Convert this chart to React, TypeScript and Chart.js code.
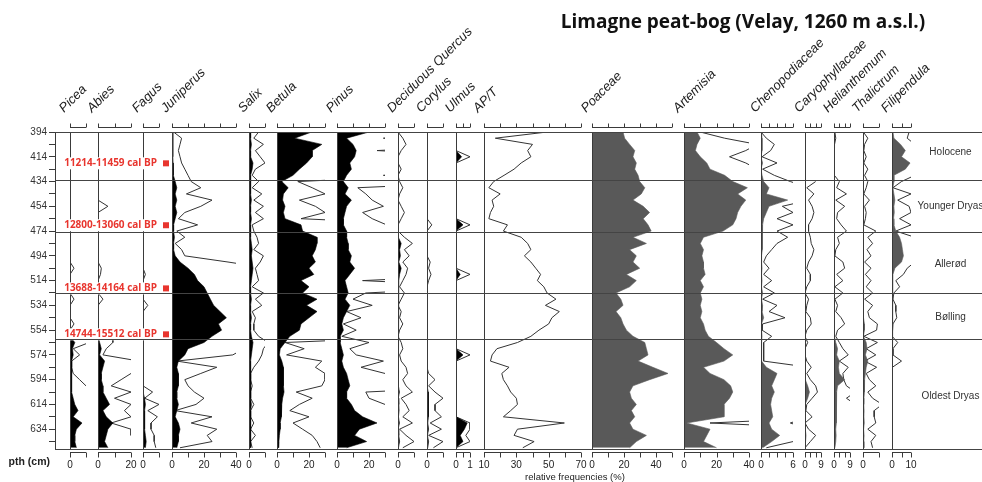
import { useEffect, useRef } from "react";
import { Chart, registerables } from "chart.js";

Chart.register(...registerables);

// ---------- DATA ----------
const DEPTHS = [
  394, 399, 404, 409, 414, 419, 424, 429, 434, 439,
  444, 449, 454, 459, 464, 469, 474, 479, 484, 489,
  494, 499, 504, 509, 514, 519, 524, 529, 534, 539,
  544, 549, 554, 559, 564, 569, 574, 579, 584, 589,
  594, 599, 604, 609, 614, 619, 624, 629, 634, 639,
  644, 649,
];
const DEPTH_TICKS = [394, 404, 414, 424, 434, 444, 454, 464, 474, 484, 494, 504, 514, 524, 534, 544, 554, 564, 574, 584, 594, 604, 614, 624, 634, 644];

const TAXA = [
  "Picea", "Abies", "Fagus", "Juniperus", "Salix", "Betula", "Pinus", "Deciduous Quercus", "Corylus", "Ulmus",
  "AP/T", "Poaceae", "Artemisia", "Chenopodiaceae", "Caryophyllaceae", "Helianthemum", "Thalictrum", "Filipendula",
];

const PICEA = [0,0,0,0,0,0,0,0,0,0, 0,0,0,0,0,0,0,0,0,0, 0,0,0,0,0,0,0,0,0,0, 0,0,0,0.5,3,1.5,2,1,1,1, 1,1,1,2,3,5,2,7.5,4,3, 3,4];
const PICEA_EXAG = [0,0,0,0,0,0,0,0,0,0, 0,0,0,0,0,0,0,0,0,0, 0,0,2.5,0,0,0,0,2.5,0,0, 0,2.5,0,10,12,2,6,1,1,2, 6,10,15,20,30,50,20,75,40,30, 30,40];
const ABIES = [0,0,0,0,0,0,0,0,0,0, 0,0,0,0,0,0,0,0,0,0, 0,0,0,0,0,0,0,0,0,0, 0,0,0,0.5,1,2,1,4,3,2, 2,3,3,5,7,3,5,9,6,5, 4,6];
const ABIES_EXAG = [0,0,0,0,0,0,0,0,0,0, 0,0,6,0,0,0,0,0,0,0, 0,0,2,1.5,0,0,0,3,0,0, 0,0,0,9,9,5,3,25,25,20, 14,8,20,10,20,16,20,8,20,20, 30,30];
const FAGUS = [0,0,0,0,0,0,0,0,0,0, 0,0,0,0,0,0,0,0,0,0, 0,0,0,0,0,0,0,0,0,0, 0,0,0,0,0,0,0,0,0,0, 0,0,0.5,1,1.5,1,1,1,1,1.5, 2,1.5];
const FAGUS_EXAG = [0,0,0,0,0,0,0,0,0,0, 0,0,0,0,0,0,0,0,0,0, 0,0,0,1.5,0,0,0,0,3,0, 0,0,0,0,0,0,0,0,0,0, 0,0,6,1,10,3,9,5,5,7, 7,8];
const JUNIPERUS = [0.5,0.5,0.5,0.5,0.5,0.7,0.7,1,2,3, 2,3,2,3,2,1,1,1.5,1,1, 2,5,10,14,16,20,22,24,26,30, 34,29,31,25,20,10,8,4,3,4, 4,4,3,3,4,3,2,4,5,4, 4,3];
const JUNIPERUS_EXAG = [1,6,5,4,5,6,8,10,12,18, 9,25,18,8,4,16,3,8,2,6, 8,35,60,60,60,60,60,60,60,60, 60,60,60,60,60,45,38,3,28,18, 8,10,14,20,15,2,25,12,28,22, 25,5];
const SALIX = [1,1,1.5,1,1,2.5,2,1,1,1, 1,1.5,1,1,1.5,1,1,1,1.5,2, 1.5,2,2.5,2,1.5,1,1,1.5,1,1, 1.5,1,1,1.5,2.5,2,1.5,1,1,1, 1,1,1,1,1.5,1,1,1,1,1, 1,1];
const SALIX_EXAG = [6,3,9,4,7,10,4,2,6,2, 8,3,9,4,9,2,3,5,6,3, 9,7,4,5,6,2,9,4,8,2, 4,3,3,6,12,9,8,6,3,1, 1,2,1,1,3,1,1,3,1,4, 1,2];
const BETULA = [21.7,11,28,22,22,18.5,14,10,3,7, 4,3.5,5,4,5,15,16,25,25,24, 22,24,20,23,15,20,16,25,18.5,25, 20,15,14,8,5,2,1.5,3,4,4, 4,4,4.4,3.5,3,3,2.5,2,2,1.5, 1.2,1];
const BETULA_EXAG = [99,99,99,99,99,99,99,99,13,22, 30,14,24,30,15,99,99,99,99,99, 99,99,99,99,99,99,99,99,99,99, 99,99,99,99,5,17,6,28,24,30, 30,28,12,22,14,8,20,10,16,22, 25,27];
const PINUS = [20,6,10,12,11,8,9,6,4,7, 5,9,6,5,4,4,6,6,7,7, 9,8,11,8,5,6,7,5,8,6, 4,3,4,2,2,3,4,3,4,6, 7,8,6,6,9,11,16,25,14,11, 18.5,6];
const PINUS_EXAG = [99,29,99,25,99,99,99,29,99,13, 18,22,29,16,22,31,99,99,99,99, 99,99,99,99,16,99,18,10,22,6, 15,4,12,3,20,8,12,29,15,30, 99,99,18,20,30,99,99,99,99,99, 99,99];
const QUERCUS = [0.2,0.3,0.5,0.2,0,0,0.2,0,0.1,0.3, 0.1,0,0.2,0.4,0.2,0,0,0.5,2,1, 1.5,0.5,2,1,0.5,0.2,0.4,0.2,0,0.2, 0.1,0.3,0.1,0,0.2,0.3,0.1,0.2,0.5,0.6, 0.3,0.5,0.9,0.2,0.5,0.7,0.3,0.9,0.1,0.5, 1,0.3];
const QUERCUS_EXAG = [0,3,5,2,0,0,2,0,1,3, 1,0,2,4,2,0,0,4,9,4, 7,3,6,5,3,1,4,2,0,2, 1,3,1,0,2,3,1,2,5,6, 3,5,9,2,5,7,3,9,1,5, 10,3];
const CORYLUS = [0,0,0,0,0,0,0,0,0,0, 0,0,0,0,0,0,0,0,0,0, 0,0,0,0,0,0,0,0,0,0, 0,0,0,0,0,0,0,0,0,0.5, 0.5,0.3,0.8,1,0.8,0.7,1,0.5,1,0.3, 1,0.5];
const CORYLUS_EXAG = [0,0,0,0,0,0,0,0,0,0, 0,0,0,0,0,3,0,0,0,0, 0,2,1,2.5,1,0,0,0,0,0, 0,0,0,0,0,0,0,0,0,1, 5,1,5,10,5,5,9,2,9,1, 10,4];
const ULMUS = [0,0,0,0,0.4,0,0,0,0,0, 0,0,0,0,0,0.5,0,0,0,0, 0,0,0,0.3,0,0,0,0,0,0, 0,0,0,0,0,0,0.5,0,0,0, 0,0,0,0,0,0,0,0.8,0.6,0.3, 0.5,0];
const ULMUS_EXAG = [0,0,0,0,1,0,0,0,0,0, 0,0,0,0,0,1,0,0,0,0, 0,0,0,1,0,0,0,0,0,0, 0,0,0,0,0,0,1,0,0,0, 0,0,0,0,0,0,0,1,1,0.7, 1,0];
const APT = [49,17,40,37,39,33,28.6,22.4,16,13, 20,15,16,14,13,24.5,22,33,37,39, 35,39,42,45,43,47,49,54.5,48,56.6, 52,50,44,39,30.7,18,15,14,25.5,21, 22,24.5,26.5,30,30.7,26.5,22,59.7,30.7,28.6, 41,34];
const POACEAE = [19.4,20.4,23.5,26.7,25.6,27.7,26.7,28.8,29.8,33, 30.8,25.6,32,36,32,35,37,25.6,34,23.5, 27.7,25.6,29.8,21.5,27.7,23.5,15,18,19.4,15, 18,19.4,21.5,25.6,33,34,35,28.8,38,47.5, 36,25.6,23.5,24.6,27.7,24.6,26.7,23.5,25.6,34, 27.7,23.5];
const ARTEMISIA = [8,10,8,7,10,14,16,25,30,39, 33,38,35,33,32,30,24,12,10,12, 11,12,12,13,10,12,10,11,10,11, 10,12,13,15,20,24.6,30,24.6,12,16, 24.6,28.7,30,28,24.6,24.6,24.6,1.6,16,14, 12,20];
const ARTEMISIA_EXAG = [10,25,45,38,28,38,45,99,99,99, 99,99,99,99,99,99,99,99,99,99, 99,99,99,99,99,99,99,99,99,99, 99,99,99,99,99,99,99,99,99,99, 99,99,99,99,99,99,99,16,99,99, 99,99];
const CHENOPODIACEAE = [0.1,0.2,0.2,0.2,0,0.3,0,0.2,0.5,1.5, 1,5,1.5,1,0.5,0.3,0.3,0.3,0.2,0.2, 0.1,0.1,0.2,0.1,0.2,0.1,0.3,0.1,0.3,0.2, 0.5,0.1,0.1,0.2,0.1,0.1,0.1,0.1,1,3, 2.5,2,2.5,2,1.8,2,2.2,1.5,2,3.5, 2,0.3];
const CHENOPODIACEAE_EXAG = [0,1,2.5,1.8,0.2,3,0.3,2.5,5.5,9, 9,9,4,6,3,6,3,5,3,2, 1,0.5,1.5,0.5,2,0.5,2.5,0.3,3,1.5, 4.5,0.3,0.2,2,0.5,0.5,0.5,0.5,9,9, 9,9,9,9,9,9,9,5.5,9,9, 6,1];
const CARYOPHYLLACEAE = [0,0,0,0,0,0,0,0,0.5,0.1, 0.4,0.2,0.3,0.4,0.3,0.2,0.2,0.3,0.3,0.4, 0.3,0.2,0.1,0.3,0.3,0.1,0,0.2,0.1,0, 0.3,0.3,0.1,0,0.2,0,0,0.1,0.3,0.1, 0.5,1.5,2.5,1.5,0.1,0,0.4,0,0.2,0.6, 0.3,0];
const CARYOPHYLLACEAE_EXAG = [null,null,null,null,null,null,null,null,6,1, 5,2,4,5,4,2,2,3,3.5,5, 4,2,1,3,3,1,0,2,1,0.5, 3,3.5,1,0,1.5,0,0,1,3.5,1, 3,6,7,4,1,0.5,4,0,2,6, 3,0];
const HELIANTHEMUM = [0.2,0.3,0.1,0.1,0.1,0.1,0.1,0.1,0.2,0.1, 0.4,0.1,0.4,0.2,0.1,0.3,0.4,0.2,0.3,0.1, 0.1,0.4,0.4,0.1,0.3,0.1,0.3,0.1,0.2,0.1, 0.3,0.4,0.2,0.3,1,2,1.5,3,2.5,3, 6,2,1.5,1.2,1.5,1.2,1.5,1.2,1,1.2, 1,0.5];
const HELIANTHEMUM_EXAG = [0.5,1,0.3,0.2,0.2,0.2,0.2,0.2,3,1.5, 7,1,6,2,1.5,4,7,2,3,1, 0.5,5,6,1.5,5,0.5,5,0.5,2,1, 4,6,2,1,3,5,8,3,8,5, 5.5,7,12,7,12,12,12,12,12,12, 12,12];
const THALICTRUM = [0.1,0.3,0.2,0.1,0.2,0.1,0.3,0.2,0.3,0.2, 0.1,0.4,0.2,0.2,0.2,0.1,0.6,0.3,0.5,0.3, 0.5,0.2,0.5,0.2,0.5,0.3,0.6,0.2,0.6,0.4, 0.5,0.9,0.9,0.3,2,2.5,1.5,3,2,1.5, 1,1,0.8,0.6,0.5,0.7,0.6,0.8,0.4,0.7, 0.5,0.6];
const THALICTRUM_EXAG = [0.2,3,1,0.5,2,0.5,3,1,3,2, 0.5,4,1,2,1.5,0.5,8,3,6,2.5, 5,1,5,1.5,5,2,6,1,6,3, 4,9,8.5,0.5,9,2,8,1,8.5,2, 4,8,3,6,12,7,7,8,3,8, 5,6];
const FILIPENDULA = [0.5,1,4.5,7,5,9.5,7,1,1,0.5, 1,1.5,1,1.2,0.8,1,2,4,5,5.5, 6,5,1.5,0.5,0.3,0.2,0.2,0.1,0.2,0.1, 0.2,0.1,0.1,0,0.3,0.1,0,0.3,0,0, 0,0,0,0,0,0,0,0,0,0, 0,0];
const FILIPENDULA_EXAG = [9,8,12,12,12,12,12,12,5,0.5, 10,3,9,10,4,10,2,12,12,12, 12,12,8,6,2,4,1,0.5,2,2, 2.5,0.5,0.2,0,3,0.5,0.5,5,0.2,0, 0,0,0,0,0,0,0,0,0,0, 0,0];

const FILLS = [PICEA, ABIES, FAGUS, JUNIPERUS, SALIX, BETULA, PINUS, QUERCUS, CORYLUS, ULMUS, null, POACEAE, ARTEMISIA, CHENOPODIACEAE, CARYOPHYLLACEAE, HELIANTHEMUM, THALICTRUM, FILIPENDULA];
const LINES = [PICEA_EXAG, ABIES_EXAG, FAGUS_EXAG, JUNIPERUS_EXAG, SALIX_EXAG, BETULA_EXAG, PINUS_EXAG, QUERCUS_EXAG, CORYLUS_EXAG, ULMUS_EXAG, APT, null, ARTEMISIA_EXAG, CHENOPODIACEAE_EXAG, CARYOPHYLLACEAE_EXAG, HELIANTHEMUM_EXAG, THALICTRUM_EXAG, FILIPENDULA_EXAG];

const AXIS_MIN = [0, 0, 0, 0, 0, 0, 0, 0, 0, 0, 10, 0, 0, 0, 0, 0, 0, 0];
const AXIS_MAX = [10, 20, 10, 40, 10, 30, 30, 10, 10, 1, 70, 50, 40, 6, 9, 9, 10, 10];
const AXIS_TICKS = [
  [0, 10], [0, 10, 20], [0, 10], [0, 10, 20, 30, 40], [0, 10], [0, 10, 20, 30], [0, 10, 20, 30], [0, 10], [0, 10], [0, 0.5, 1],
  [10, 20, 30, 40, 50, 60, 70], [0, 10, 20, 30, 40, 50], [0, 10, 20, 30, 40], [0, 1.5, 3, 4.5, 6], [0, 3, 6, 9], [0, 3, 6, 9], [0, 10], [0, 5, 10],
];
const AXIS_TICK_LABELS = [
  [0], [0, 20], [0], [0, 20, 40], [0], [0, 20], [0, 20], [0], [0], [0, 1],
  [10, 30, 50, 70], [0, 20, 40], [0, 20, 40], [0, 6], [0, 9], [0, 9], [0], [0, 10],
];
const HERB = [false, false, false, false, false, false, false, false, false, false, false, true, true, true, true, true, true, true];

const ZONE_BOUNDS = [433, 474.5, 524, 561];
const ZONE_NAMES = ["Holocene", "Younger Dryas", "Allerød", "Bølling", "Oldest Dryas"];
const ZONE_LABEL_DEPTHS = [410.5, 454, 500.5, 543.5, 607.5];
const DATE_LABELS = ["11214-11459 cal BP", "12800-13060 cal BP", "13688-14164 cal BP", "14744-15512 cal BP"];
const DATE_DEPTHS = [419.3, 469.3, 520.3, 557.4];

const TITLE = "Limagne peat-bog (Velay, 1260 m a.s.l.)";
const DEPTH_TITLE = "pth (cm)";
const X_TITLE = "relative frequencies (%)";

// ---------- LAYOUT (pixels) ----------
const PANEL_EDGES = [
  [70, 86], [98, 131], [143, 159], [172, 236], [249, 265], [277, 325], [337, 385], [398, 414], [427, 443], [456, 470],
  [484, 581], [592, 672], [684, 749], [761, 793], [805, 821], [834, 850], [863, 879], [892, 911],
];

const SANS = "'Liberation Sans', Arial, sans-serif";
const AXIS_COLOR = "#3a3a3a";

export default function App() {
  const ref = useRef<HTMLCanvasElement>(null);

  useEffect(() => {
    if (!ref.current) return;

    const scales: any = {
      y: {
        type: "linear",
        reverse: true,
        min: 394,
        max: 650,
        position: "left",
        afterFit: (s: any) => { s.width = 55; },
        afterBuildTicks: (s: any) => { s.ticks = DEPTH_TICKS.map((v) => ({ value: v })); },
        ticks: {
          autoSkip: false,
          padding: 2,
          color: "#333",
          font: { family: SANS, size: 10 },
          callback: (v: any) => ((Number(v) - 394) % 20 === 0 ? String(v) : ""),
        },
        grid: { drawOnChartArea: false, drawTicks: true, tickLength: 6, color: AXIS_COLOR },
        border: { display: true, color: AXIS_COLOR, width: 1 },
      },
    };

    const datasets: any[] = [];
    TAXA.forEach((_, i) => {
      const id = "x" + i;
      scales[id] = { type: "linear", display: false, position: "bottom", min: AXIS_MIN[i], max: AXIS_MAX[i] };
      const color = HERB[i] ? "#595959" : "#000000";
      const f = FILLS[i];
      if (f) {
        datasets.push({
          data: DEPTHS.map((d, k) => ({ x: f[k], y: d })),
          xAxisID: id, yAxisID: "y",
          fill: "origin",
          backgroundColor: color,
          borderColor: color,
          borderWidth: 0.6,
          pointRadius: 0,
          tension: 0,
        });
      }
      const l = LINES[i];
      if (l) {
        datasets.push({
          data: DEPTHS.map((d, k) => ({ x: l[k], y: d })),
          xAxisID: id, yAxisID: "y",
          fill: false,
          borderColor: "#333333",
          borderWidth: 1,
          pointRadius: 0,
          tension: 0,
          spanGaps: false,
        });
      }
    });

    const placePanels = {
      id: "placePanels",
      afterLayout(chart: any) {
        PANEL_EDGES.forEach(([l, r], i) => {
          const s = chart.scales["x" + i];
          if (!s) return;
          s.left = l; s.right = r; s.width = r - l;
          s.configure();
        });
      },
    };

    const decorations = {
      id: "decorations",
      afterDatasetsDraw(chart: any) {
        const ctx = chart.ctx as CanvasRenderingContext2D;
        const area = chart.chartArea;
        const y = chart.scales.y;
        ctx.save();

        // zero lines
        ctx.strokeStyle = AXIS_COLOR;
        ctx.lineWidth = 1;
        TAXA.forEach((_, i) => {
          const s = chart.scales["x" + i];
          const x0 = Math.round(s.getPixelForValue(AXIS_MIN[i])) + 0.5;
          ctx.beginPath();
          ctx.moveTo(x0, area.top);
          ctx.lineTo(x0, area.bottom);
          ctx.stroke();
        });

        // dated levels (white box behind, over the lines)
        ctx.font = `bold 10px 'Open Sans', sans-serif`;
        ctx.textAlign = "right";
        ctx.textBaseline = "middle";
        DATE_LABELS.forEach((t, i) => {
          const py = y.getPixelForValue(DATE_DEPTHS[i]);
          const w = ctx.measureText(t).width;
          ctx.fillStyle = "#ffffff";
          ctx.fillRect(157 - w - 2, py - 6, w + 4, 12);
          ctx.fillStyle = "#e8352e";
          ctx.fillText(t, 157, py);
          ctx.fillRect(163, py - 3, 6, 6);
        });

        // frame + zone lines
        ctx.strokeStyle = "#444";
        ctx.lineWidth = 1.2;
        const hLines = [394, ...ZONE_BOUNDS, 650];
        hLines.forEach((d) => {
          const py = Math.round(y.getPixelForValue(d)) + 0.5;
          ctx.beginPath();
          ctx.moveTo(area.left, py);
          ctx.lineTo(chart.width, py);
          ctx.stroke();
        });

        // panel axes (top + bottom)
        ctx.strokeStyle = AXIS_COLOR;
        ctx.lineWidth = 1;
        ctx.fillStyle = "#222";
        ctx.font = `10px ${SANS}`;
        ctx.textAlign = "center";
        ctx.textBaseline = "middle";
        const topY = area.top - 4.5;
        const botY = area.bottom + 3.5;
        TAXA.forEach((_, i) => {
          const s = chart.scales["x" + i];
          const xa = s.getPixelForValue(AXIS_MIN[i]);
          const xb = s.getPixelForValue(AXIS_MAX[i]);
          ctx.beginPath();
          ctx.moveTo(xa, topY); ctx.lineTo(xb, topY);
          ctx.moveTo(xa, botY); ctx.lineTo(xb, botY);
          AXIS_TICKS[i].forEach((t) => {
            const px = Math.round(s.getPixelForValue(t)) + 0.5;
            ctx.moveTo(px, topY); ctx.lineTo(px, topY - 4);
            ctx.moveTo(px, botY); ctx.lineTo(px, botY + 5);
          });
          ctx.stroke();
          AXIS_TICK_LABELS[i].forEach((t) => {
            ctx.fillText(String(t), s.getPixelForValue(t), botY + 13);
          });
        });

        // taxon names
        ctx.font = `italic 13px ${SANS}`;
        ctx.textAlign = "left";
        ctx.textBaseline = "alphabetic";
        ctx.fillStyle = "#222";
        TAXA.forEach((name, i) => {
          const s = chart.scales["x" + i];
          const x0 = s.getPixelForValue(AXIS_MIN[i]);
          ctx.save();
          ctx.translate(x0 - 6, area.top - 19);
          ctx.rotate(-Math.PI / 4);
          ctx.fillText(name, 0, 0);
          ctx.restore();
        });

        // zone names
        ctx.font = `10px ${SANS}`;
        ctx.textAlign = "center";
        ctx.textBaseline = "middle";
        ctx.fillStyle = "#333";
        const zoneX = (PANEL_EDGES[PANEL_EDGES.length - 1][1] + chart.width) / 2 + 4;
        ZONE_NAMES.forEach((n, i) => {
          ctx.fillText(n, zoneX, y.getPixelForValue(ZONE_LABEL_DEPTHS[i]));
        });

        // titles
        ctx.fillStyle = "#111";
        ctx.font = `bold 19px 'Open Sans', sans-serif`;
        ctx.textAlign = "center";
        ctx.textBaseline = "alphabetic";
        ctx.fillText(TITLE, 743, 28);

        ctx.font = `bold 10.5px ${SANS}`;
        ctx.textAlign = "right";
        ctx.textBaseline = "middle";
        ctx.fillStyle = "#222";
        ctx.fillText(DEPTH_TITLE, 50, 462);

        ctx.font = `9.5px ${SANS}`;
        ctx.textAlign = "center";
        ctx.fillText(X_TITLE, 575, 477);

        ctx.restore();
      },
    };

    const chart = new Chart(ref.current, {
      type: "line",
      data: { datasets },
      options: {
        indexAxis: "y",
        animation: false,
        responsive: true,
        maintainAspectRatio: false,
        events: [],
        layout: { padding: { left: 0, right: 0, top: 132, bottom: 33 } },
        plugins: { legend: { display: false }, tooltip: { enabled: false }, title: { display: false } },
        scales,
      } as any,
      plugins: [placePanels, decorations],
    });

    return () => chart.destroy();
  }, []);

  return (
    <div style={{ position: "fixed", left: 0, top: 0, width: 982, height: 482, background: "#fff" }}>
      <canvas ref={ref} style={{ display: "block" }} />
    </div>
  );
}
